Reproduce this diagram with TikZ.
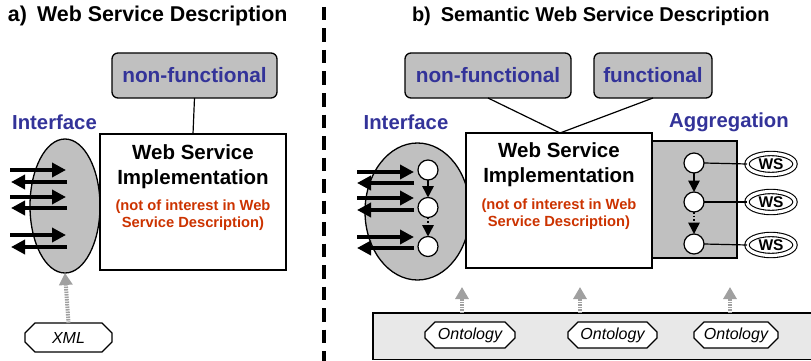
\documentclass[tikz,border=0pt]{standalone}
\usepackage{fontspec}
\setmainfont{Liberation Sans}
\usetikzlibrary{arrows.meta,shapes.geometric,shapes.misc}

\definecolor{ifblue}{HTML}{333399}
\definecolor{notered}{HTML}{CC3300}
\definecolor{boxgrey}{HTML}{C0C0C0}
\definecolor{bandgrey}{HTML}{E8E8E8}
\definecolor{arrgrey}{HTML}{A0A0A0}

\tikzset{
  every node/.style={inner sep=0pt, outer sep=0pt},
  heading/.style={font=\fontsize{20}{24}\selectfont\bfseries, anchor=west},
  bluelabel/.style={font=\fontsize{20.3}{24}\selectfont\bfseries, text=ifblue},
  aspectbox/.style={draw, line width=1.3pt, rounded corners=6pt, fill=boxgrey,
    font=\fontsize{20.8}{24}\selectfont\bfseries, text=ifblue},
  implbox/.style={draw, line width=1.3pt, fill=white, minimum width=186pt, minimum height=136pt},
  impltitle/.style={font=\fontsize{20.5}{25}\selectfont\bfseries, align=center},
  implnote/.style={font=\fontsize{14.7}{17}\selectfont\bfseries, text=notered, align=center},
  ifellipse/.style={ellipse, draw, line width=1.3pt, fill=boxgrey},
  msgarrow/.style={line width=4pt, -{Triangle[length=14pt,width=14pt]}},
  opnode/.style={circle, draw, line width=1.2pt, fill=white, minimum size=20pt},
  flowsolid/.style={line width=1.5pt, -{Triangle[length=11.5pt,width=11.5pt]}},
  flowdotted/.style={line width=1.5pt, dotted, -{Triangle[length=11.5pt,width=11.5pt]}},
  wsnode/.style={ellipse, draw, line width=1.1pt, double=white, double distance=3.2pt,
    minimum width=48pt, minimum height=21pt, font=\fontsize{15.5}{17}\selectfont\bfseries},
  typebox/.style={chamfered rectangle, chamfered rectangle xsep=5pt, chamfered rectangle ysep=5pt,
    draw, line width=1.2pt, fill=white, font=\fontsize{16}{18}\selectfont\itshape},
  semarrow/.style={line width=4pt, arrgrey, dash pattern=on 1.5pt off 1pt,
    -{Triangle[length=12pt,width=13pt,sep=0pt]}},
  link/.style={line width=1.2pt}
}

\begin{document}
\begin{tikzpicture}[x=1pt,y=-1pt]
\useasboundingbox (0,0) rectangle (811,361);

% headings and divider
\node[heading, font=\fontsize{21.4}{24}\selectfont\bfseries] (ta) at (8,16) {a)\hspace{10pt}Web Service Description};
\node[heading] (tb) at (412,16) {b)\hspace{10pt}Semantic Web Service Description};
\draw[line width=4.5pt, dash pattern=on 13.5pt off 8pt] (324,7) -- (324,361);

% ---------------- a) plain description ----------------
\node[bluelabel] (ifa) at (54.5,122) {Interface};
\node[ifellipse, minimum width=70pt, minimum height=134pt] (ea) at (65,206) {};
\node[implbox] (impla) at (193,202) {};
\node[impltitle] (implaT) at (193,167) {Web Service\\Implementation};
\node[implnote] (implaN) at (193,215) {(not of interest in Web\\Service Description)};
\node[aspectbox, minimum width=165pt, minimum height=45pt] (nfa) at (194.5,75.5) {non-functional};
\draw[link] (nfa.south) -- (impla.north);

\foreach \y in {170,197,235} \draw[msgarrow] (10,\y) -- (66,\y);
\foreach \y in {182,208,247} \draw[msgarrow] (67,\y) -- (11,\y);

\node[typebox, minimum width=87pt, minimum height=29pt] (xml) at (68.5,337.5) {XML};
\draw[semarrow] (xml.north) -- (ea.south);

% ---------------- b) semantic description ----------------
\node[bluelabel] (ifb) at (406,122) {Interface};
\node[bluelabel] (aggl) at (729,122) {Aggregation};

\node[ifellipse, minimum width=105pt, minimum height=137pt] (eb) at (417.5,211.5) {};
\node[draw, line width=1.3pt, fill=boxgrey, minimum width=85pt, minimum height=117pt] (agg) at (694.5,199.5) {};
\node[implbox, minimum height=135pt] (implb) at (559,200.5) {};
\node[impltitle] (implbT) at (559,165) {Web Service\\Implementation};
\node[implnote] (implbN) at (559,214) {(not of interest in Web\\Service Description)};

\node[aspectbox, minimum width=166pt, minimum height=45pt] (nfb) at (488,75.5) {non-functional};
\node[aspectbox, minimum width=118pt, minimum height=45pt] (fb) at (653,75.5) {functional};
\coordinate (joint) at (560,133);
\draw[link] (nfb.south) -- (joint) -- (fb.south);

% interface operations
\node[opnode] (i1) at (428,170) {};
\node[opnode] (i2) at (428,207.5) {};
\node[opnode] (i3) at (428,246.5) {};
\draw[flowsolid] (i1) -- (i2);
\draw[flowdotted] (i2) -- (i3);
\foreach \y in {172,198,237} \draw[msgarrow] (357,\y) -- (414,\y);
\foreach \y in {183,210,248} \draw[msgarrow] (414,\y) -- (357,\y);

% aggregated services
\node[opnode] (a1) at (694,163) {};
\node[opnode] (a2) at (694,202) {};
\node[opnode] (a3) at (694,244) {};
\draw[flowsolid] (a1) -- (a2);
\draw[flowdotted] (a2) -- (a3);
\node[wsnode] (ws1) at (771,164) {WS};
\node[wsnode] (ws2) at (771,202) {WS};
\node[wsnode] (ws3) at (771,245) {WS};
\draw[link] (a1.east) -- (ws1.west);
\draw[link] (a2.east) -- (ws2.west);
\draw[link] (a3.east) -- (ws3.west);

% ontology layer
\node[draw, line width=1.3pt, fill=bandgrey, minimum width=450pt, minimum height=46.5pt, anchor=north west] (band) at (373,313) {};
\node[typebox, minimum width=90pt, minimum height=26pt] (o1) at (470,335) {Ontology};
\node[typebox, minimum width=89pt, minimum height=26pt] (o2) at (612.5,335) {Ontology};
\node[typebox, minimum width=84pt, minimum height=26pt] (o3) at (736,335) {Ontology};
\coordinate (s1) at (462,287);
\coordinate (s2) at (580,287);
\coordinate (s3) at (730,287);
\draw[semarrow] (s1 |- band.north) -- (s1);
\draw[semarrow] (s2 |- band.north) -- (s2);
\draw[semarrow] (s3 |- band.north) -- (s3);
\end{tikzpicture}
\end{document}
